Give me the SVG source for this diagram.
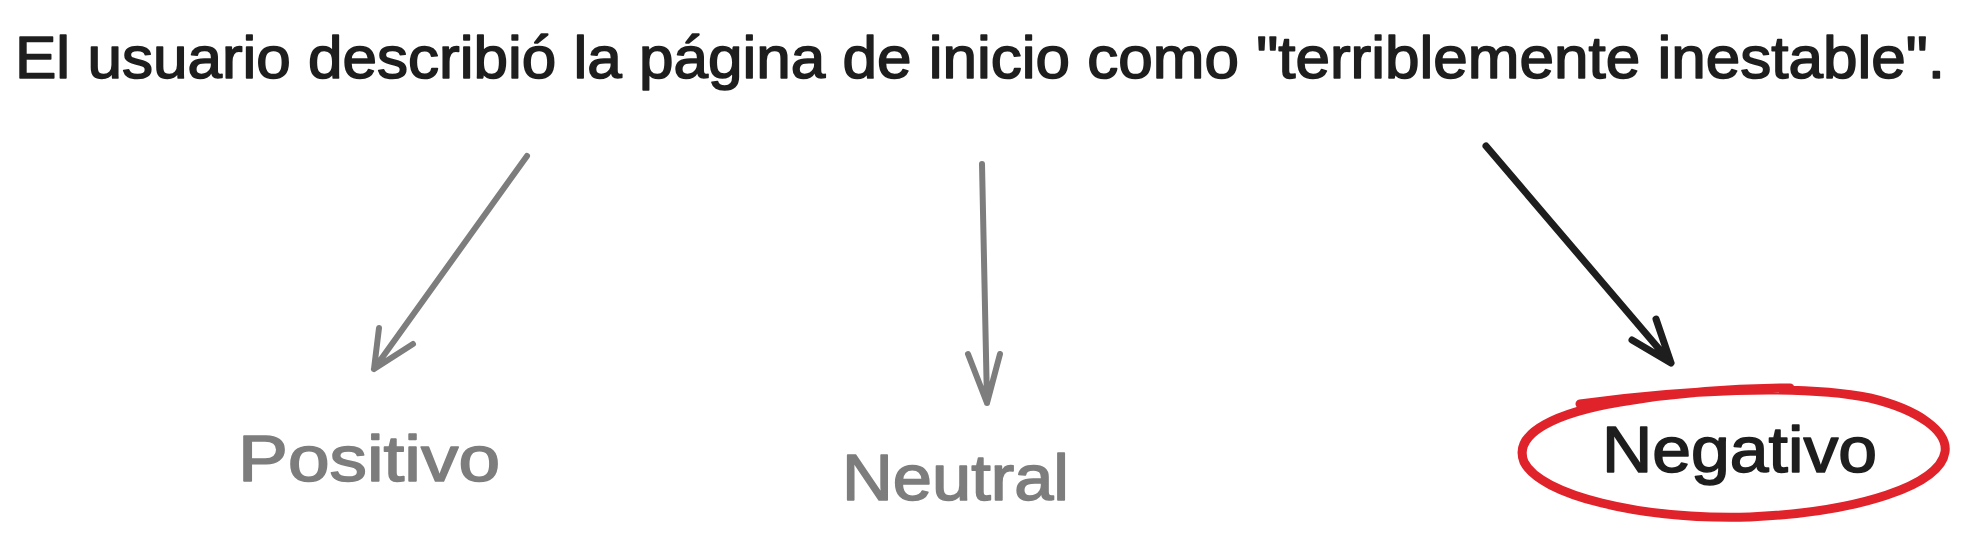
<svg xmlns="http://www.w3.org/2000/svg" width="1961" height="544" viewBox="0 0 1961 544">
<style>
.t{font-family:"Liberation Sans","DejaVu Sans",sans-serif;stroke-linejoin:round;}
.title{font-size:60px;fill:#1e1e1e;stroke:#1e1e1e;stroke-width:1.6;}
.gray{fill:#7d7d7d;stroke:#7d7d7d;stroke-width:1.6;font-size:64px;}
.neg{fill:#1e1e1e;stroke:#1e1e1e;stroke-width:1.6;font-size:64px;}
.cg{fill:none;stroke:#7d7d7d;stroke-width:6;stroke-linecap:round;stroke-linejoin:round;}
.cb{fill:none;stroke:#1e1e1e;stroke-width:7;stroke-linecap:round;stroke-linejoin:round;}
.ring{fill:none;stroke:#e0232b;stroke-width:9;stroke-linecap:round;}
</style>
<rect width="1961" height="544" fill="#ffffff"/>
<g id="sentence">
<text class="t title" x="15" y="78" textLength="1930" lengthAdjust="spacingAndGlyphs">El usuario describió la página de inicio como "terriblemente inestable".</text>
</g>
<g id="connectors">
<path class="cg" d="M527 156 L374 369 M379 328 L374 369 L413 344"/>
<path class="cg" d="M982 164 L987 403 M968 354 L987 403 L1000 354"/>
<path class="cb" d="M1486 146 L1671 363 M1632 340 L1671 363 L1656 319"/>
</g>
<g id="positivo">
<text class="t gray" x="238" y="481" textLength="262" lengthAdjust="spacingAndGlyphs">Positivo</text>
</g>
<g id="neutral">
<text class="t gray" x="842" y="500" textLength="227" lengthAdjust="spacingAndGlyphs">Neutral</text>
</g>
<g id="negativo">
<path class="ring" d="M1580 404 C1680 390 1800 384 1870 398 C1920 410 1948 432 1945 452 C1940 485 1860 512 1750 517 C1640 520 1540 495 1524 462 C1512 432 1560 412 1620 402 C1680 392 1740 388 1790 388"/>
<text class="t neg" x="1602" y="472" textLength="275" lengthAdjust="spacingAndGlyphs">Negativo</text>
</g>
</svg>
